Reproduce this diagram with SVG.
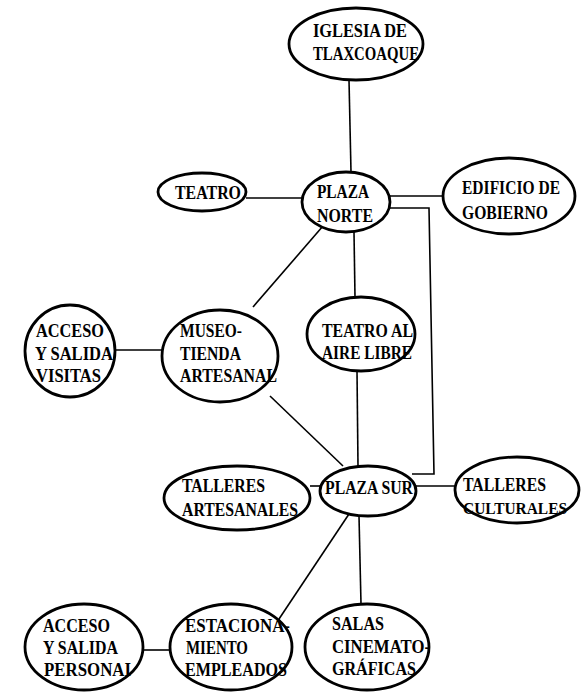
<svg xmlns="http://www.w3.org/2000/svg" width="581" height="694" viewBox="0 0 581 694">
<style>
.n ellipse{fill:#fff;stroke:#000;stroke-width:2.8}
.n text{font-family:"Liberation Serif","Times New Roman",serif;font-weight:bold;font-size:19px;fill:#000}
.n text.sm{font-size:17px}
#edges line,#edges polyline{stroke:#000;stroke-width:1.6;fill:none}
</style>
<rect width="581" height="694" fill="#fff"/>
<g id="edges">
<line x1="349" y1="80" x2="351" y2="172"/>
<line x1="246" y1="198" x2="303" y2="198"/>
<line x1="389" y1="196" x2="443" y2="196"/>
<polyline points="387,208 429,208 434,474 412,474"/>
<line x1="354" y1="232" x2="355" y2="297"/>
<line x1="323" y1="226" x2="253" y2="307"/>
<line x1="115" y1="350" x2="162" y2="350"/>
<line x1="270" y1="396" x2="343" y2="466"/>
<line x1="357" y1="371" x2="358" y2="466"/>
<line x1="310" y1="486" x2="320" y2="486"/>
<line x1="416" y1="486" x2="456" y2="486"/>
<line x1="351" y1="511" x2="279" y2="619"/>
<line x1="359" y1="516" x2="361" y2="604"/>
<line x1="143" y1="650" x2="170" y2="650"/>
</g>
<g id="iglesia" class="n">
<ellipse cx="356" cy="44" rx="67" ry="36"/>
<text x="313" y="37" textLength="94" lengthAdjust="spacingAndGlyphs">IGLESIA DE</text>
<text x="313" y="60" textLength="106" lengthAdjust="spacingAndGlyphs">TLAXCOAQUE</text>
</g>
<g id="plaza-norte" class="n">
<ellipse cx="346" cy="202" rx="44" ry="30"/>
<text x="317" y="198" textLength="52" lengthAdjust="spacingAndGlyphs">PLAZA</text>
<text x="317" y="222" textLength="56" lengthAdjust="spacingAndGlyphs">NORTE</text>
</g>
<g id="teatro" class="n">
<ellipse cx="202" cy="192" rx="44" ry="19"/>
<text x="175" y="199" textLength="66" lengthAdjust="spacingAndGlyphs">TEATRO</text>
</g>
<g id="edificio" class="n">
<ellipse cx="509" cy="196" rx="66" ry="38"/>
<text x="462" y="194" textLength="98" lengthAdjust="spacingAndGlyphs">EDIFICIO DE</text>
<text x="462" y="219" textLength="86" lengthAdjust="spacingAndGlyphs">GOBIERNO</text>
</g>
<g id="teatro-aire" class="n">
<ellipse cx="361" cy="334" rx="54" ry="37"/>
<text x="322" y="337" textLength="91" lengthAdjust="spacingAndGlyphs">TEATRO AL</text>
<text x="322" y="359" textLength="90" lengthAdjust="spacingAndGlyphs">AIRE LIBRE</text>
</g>
<g id="museo" class="n">
<ellipse cx="220" cy="356" rx="58" ry="46"/>
<text x="180" y="337" textLength="62" lengthAdjust="spacingAndGlyphs">MUSEO-</text>
<text x="180" y="360" textLength="61" lengthAdjust="spacingAndGlyphs">TIENDA</text>
<text x="180" y="382" textLength="97" lengthAdjust="spacingAndGlyphs">ARTESANAL</text>
</g>
<g id="acceso-visitas" class="n">
<ellipse cx="70" cy="351" rx="45" ry="46"/>
<text x="36" y="337" textLength="68" lengthAdjust="spacingAndGlyphs">ACCESO</text>
<text x="35" y="360" textLength="78" lengthAdjust="spacingAndGlyphs">Y SALIDA</text>
<text x="36" y="382" textLength="65" lengthAdjust="spacingAndGlyphs">VISITAS</text>
</g>
<g id="plaza-sur" class="n">
<ellipse cx="368" cy="491" rx="48" ry="25"/>
<text x="325" y="494" textLength="88" lengthAdjust="spacingAndGlyphs">PLAZA SUR</text>
</g>
<g id="talleres-artesanales" class="n">
<ellipse cx="237" cy="498" rx="73" ry="32"/>
<text x="182" y="492" textLength="83" lengthAdjust="spacingAndGlyphs">TALLERES</text>
<text x="182" y="516" textLength="116" lengthAdjust="spacingAndGlyphs">ARTESANALES</text>
</g>
<g id="talleres-culturales" class="n">
<ellipse cx="517" cy="490" rx="62" ry="33"/>
<text x="463" y="491" textLength="83" lengthAdjust="spacingAndGlyphs">TALLERES</text>
<text class="sm" x="463" y="514" textLength="104" lengthAdjust="spacingAndGlyphs">CULTURALES</text>
</g>
<g id="acceso-personal" class="n">
<ellipse cx="84" cy="647" rx="59" ry="43"/>
<text x="43" y="632" textLength="67" lengthAdjust="spacingAndGlyphs">ACCESO</text>
<text x="43" y="654" textLength="75" lengthAdjust="spacingAndGlyphs">Y SALIDA</text>
<text x="44" y="676" textLength="87" lengthAdjust="spacingAndGlyphs">PERSONAI</text>
</g>
<g id="estacionamiento" class="n">
<ellipse cx="231" cy="647" rx="61" ry="43"/>
<text x="185" y="632" textLength="105" lengthAdjust="spacingAndGlyphs">ESTACIONA-</text>
<text x="186" y="654" textLength="62" lengthAdjust="spacingAndGlyphs">MIENTO</text>
<text x="185" y="676" textLength="102" lengthAdjust="spacingAndGlyphs">EMPLEADOS</text>
</g>
<g id="salas" class="n">
<ellipse cx="367" cy="647" rx="62" ry="43"/>
<text x="332" y="630" textLength="52" lengthAdjust="spacingAndGlyphs">SALAS</text>
<text x="332" y="653" textLength="98" lengthAdjust="spacingAndGlyphs">CINEMATO-</text>
<text x="332" y="675" textLength="84" lengthAdjust="spacingAndGlyphs">GRÁFICAS</text>
</g>
</svg>
